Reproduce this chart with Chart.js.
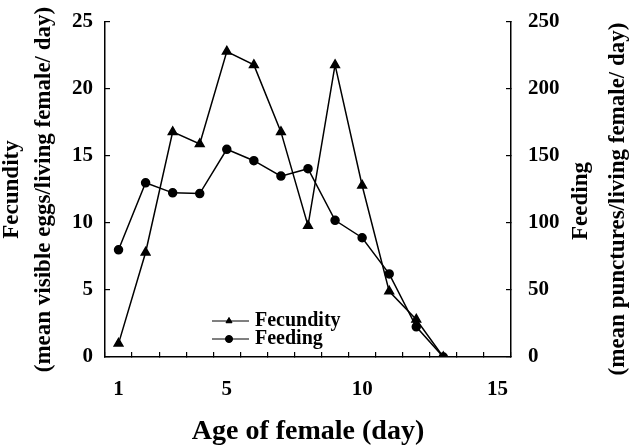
<!DOCTYPE html>
<html>
<head>
<meta charset="utf-8">
<script src="https://cdn.jsdelivr.net/npm/chart.js@4/dist/chart.umd.min.js"></script>
<style>
  html, body { margin: 0; padding: 0; background: #fff; }
  #wrap { width: 631px; height: 446px; }
</style>
</head>
<body>
<div id="wrap"><canvas id="c"></canvas></div>
<script>
// age of female (day) - axis runs 1..15, data stops at day 13
var days = ['1','2','3','4','5','6','7','8','9','10','11','12','13','14','15'];
var shownDays = ['1','5','10','15'];
// eggs per living female per day (left axis)
var fecundity = [1, 7.8, 16.8, 15.9, 22.8, 21.8, 16.8, 9.8, 21.8, 12.8, 4.9, 2.8, 0];
// punctures per living female per day (right axis)
var feeding = [80, 130, 122.5, 122, 155, 146.5, 135, 140.5, 102, 89, 62, 22.5, 0];

var serif = "'Liberation Serif', 'Times New Roman', serif";
var black = '#000';

// right title reads bottom-to-top like the left one, so draw it here
var rightTitle = {
  id: 'rightTitle',
  afterDraw: function(chart){
    var ctx = chart.ctx;
    ctx.save();
    ctx.fillStyle = black;
    ctx.font = 'bold 23px ' + serif;
    ctx.textAlign = 'center';
    ctx.textBaseline = 'middle';
    ctx.translate(581, 201);
    ctx.rotate(-Math.PI/2);
    ctx.fillText('Feeding', 0, 0);
    ctx.fillText('(mean punctures/living female/ day)', 2, 37);
    ctx.restore();
  }
};

// legend sits inside the plot, near the bottom
var innerLegend = {
  id: 'innerLegend',
  afterDraw: function(chart){
    var ctx = chart.ctx;
    var rows = [
      {label: 'Fecundity', shape: 'triangle', y: 321},
      {label: 'Feeding', shape: 'circle', y: 339}
    ];
    ctx.save();
    ctx.strokeStyle = black;
    ctx.fillStyle = black;
    ctx.lineWidth = 1;
    ctx.font = 'bold 20px ' + serif;
    ctx.textBaseline = 'middle';
    rows.forEach(function(r){
      ctx.beginPath();
      ctx.moveTo(212, r.y);
      ctx.lineTo(249, r.y);
      ctx.stroke();
      Chart.helpers.drawPoint(ctx, {pointStyle: r.shape, radius: 3.5, borderWidth: 1}, 229, r.y);
      ctx.fill();
      ctx.fillText(r.label, 255, r.y);
    });
    ctx.restore();
  }
};

var tickFont = {family: serif, size: 21, weight: 'bold'};

new Chart(document.getElementById('c'), {
  type: 'line',
  data: {
    labels: days,
    datasets: [{
      label: 'Fecundity',
      data: fecundity,
      yAxisID: 'y',
      borderColor: black,
      backgroundColor: black,
      borderWidth: 1.5,
      pointStyle: 'triangle',
      pointRadius: 5,
      tension: 0
    },{
      label: 'Feeding',
      data: feeding,
      yAxisID: 'y1',
      borderColor: black,
      backgroundColor: black,
      borderWidth: 1.5,
      pointStyle: 'circle',
      pointRadius: 4,
      tension: 0
    }]
  },
  plugins: [rightTitle, innerLegend],
  options: {
    responsive: true,
    maintainAspectRatio: false,
    animation: false,
    layout: {padding: {top: 22}},
    plugins: {
      legend: {display: false},
      tooltip: {enabled: false}
    },
    scales: {
      x: {
        type: 'category',
        offset: true,
        grid: {offset: true, drawOnChartArea: false, tickLength: -5, color: black, lineWidth: 1.2},
        border: {color: black, width: 1.5},
        ticks: {
          autoSkip: false,
          maxRotation: 0,
          padding: 25,
          color: black,
          font: tickFont,
          callback: function(v, i){
            var lab = days[i];
            return shownDays.indexOf(lab) >= 0 ? lab : '';
          }
        },
        title: {
          display: true,
          text: 'Age of female (day)',
          color: black,
          font: {family: serif, size: 28, weight: 'bold', lineHeight: 1},
          padding: {top: 0, bottom: 0}
        },
        afterFit: function(s){ s.height = 89; }
      },
      y: {
        position: 'left',
        min: 0, max: 25,
        grid: {drawOnChartArea: false, tickLength: -5, color: black, lineWidth: 1.2},
        border: {color: black, width: 1.5},
        ticks: {stepSize: 5, padding: 17, color: black, font: tickFont},
        title: {
          display: true,
          text: ['Fecundity', '(mean visible eggs/living female/ day)'],
          color: black,
          font: {family: serif, size: 23, weight: 'bold', lineHeight: 1.4},
          padding: {top: -4, bottom: 0}
        },
        afterFit: function(s){ s.width = 105; s.paddingTop = 0; }
      },
      y1: {
        position: 'right',
        min: 0, max: 250,
        grid: {drawOnChartArea: false, tickLength: -5, color: black, lineWidth: 1.2},
        border: {color: black, width: 1.5},
        ticks: {stepSize: 50, padding: 22, color: black, font: tickFont},
        afterFit: function(s){ s.width = 120; s.paddingTop = 0; }
      }
    }
  }
});
</script>
</body>
</html>
